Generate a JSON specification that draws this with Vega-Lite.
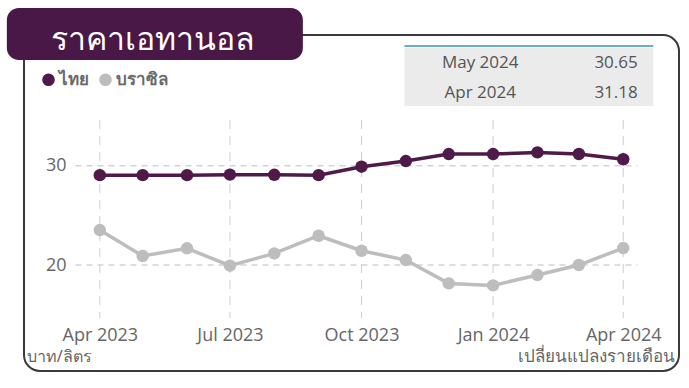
{
  "$schema": "https://vega.github.io/schema/vega-lite/v6.json",
  "width": 655,
  "height": 336,
  "autosize": "none",
  "padding": {"left": 24, "top": 35, "right": 10, "bottom": 17},
  "background": "white",
  "config": {
    "view": {"stroke": "#3a3a3a", "strokeWidth": 2, "cornerRadius": 16},
    "font": "Noto Sans",
    "text": {"font": "Noto Sans"}
  },
  "datasets": {
    "prices": [
      {"date": "2023-04-01", "country": "ไทย", "price": 29.05},
      {"date": "2023-05-01", "country": "ไทย", "price": 29.05},
      {"date": "2023-06-01", "country": "ไทย", "price": 29.05},
      {"date": "2023-07-01", "country": "ไทย", "price": 29.1},
      {"date": "2023-08-01", "country": "ไทย", "price": 29.08},
      {"date": "2023-09-01", "country": "ไทย", "price": 29.05},
      {"date": "2023-10-01", "country": "ไทย", "price": 29.9},
      {"date": "2023-11-01", "country": "ไทย", "price": 30.47},
      {"date": "2023-12-01", "country": "ไทย", "price": 31.17},
      {"date": "2024-01-01", "country": "ไทย", "price": 31.17},
      {"date": "2024-02-01", "country": "ไทย", "price": 31.34},
      {"date": "2024-03-01", "country": "ไทย", "price": 31.18},
      {"date": "2024-04-01", "country": "ไทย", "price": 30.65},
      {"date": "2023-04-01", "country": "บราซิล", "price": 23.52},
      {"date": "2023-05-01", "country": "บราซิล", "price": 20.91},
      {"date": "2023-06-01", "country": "บราซิล", "price": 21.68},
      {"date": "2023-07-01", "country": "บราซิล", "price": 19.93},
      {"date": "2023-08-01", "country": "บราซิล", "price": 21.17},
      {"date": "2023-09-01", "country": "บราซิล", "price": 22.95},
      {"date": "2023-10-01", "country": "บราซิล", "price": 21.44},
      {"date": "2023-11-01", "country": "บราซิล", "price": 20.5},
      {"date": "2023-12-01", "country": "บราซิล", "price": 18.15},
      {"date": "2024-01-01", "country": "บราซิล", "price": 17.95},
      {"date": "2024-02-01", "country": "บราซิล", "price": 18.99},
      {"date": "2024-03-01", "country": "บราซิล", "price": 20.0},
      {"date": "2024-04-01", "country": "บราซิล", "price": 21.71}
    ],
    "table": [
      {"month": "May 2024", "value": "30.65"},
      {"month": "Apr 2024", "value": "31.18"}
    ],
    "hgrid": [{"v": 20}, {"v": 30}],
    "vgrid": [
      {"date": "2023-04-01"}, {"date": "2023-07-01"}, {"date": "2023-10-01"},
      {"date": "2024-01-01"}, {"date": "2024-04-01"}
    ],
    "titles": [{"title": "ราคาเอทานอล", "unit": "บาท/ลิตร", "note": "เปลี่ยนแปลงรายเดือน"}]
  },
  "layer": [
    {
      "data": {"name": "hgrid"},
      "mark": {"type": "rule", "color": "#d4d4d4", "strokeWidth": 1.5, "strokeDash": [6, 5]},
      "encoding": {
        "y": {"field": "v", "type": "quantitative"},
        "x": {"datum": {"year": 2023, "month": 3, "date": 15, "utc": true}, "type": "temporal"},
        "x2": {"datum": {"year": 2024, "month": 4, "date": 11, "utc": true}}
      }
    },
    {
      "data": {"name": "vgrid"},
      "mark": {"type": "rule", "color": "#d4d4d4", "strokeWidth": 1.2, "strokeDash": [9, 7]},
      "encoding": {
        "x": {"field": "date", "type": "temporal"},
        "y": {"datum": 34.6, "type": "quantitative"},
        "y2": {"datum": 14.66}
      }
    },
    {
      "data": {"name": "prices"},
      "mark": {"type": "line", "strokeWidth": 3.5, "point": {"filled": true, "size": 155, "opacity": 1}},
      "encoding": {
        "x": {
          "field": "date", "type": "temporal",
          "scale": {"type": "utc", "domain": [{"year": 2023, "month": 2, "date": 7, "utc": true}, {"year": 2024, "month": 5, "date": 10, "utc": true}]},
          "axis": {
            "values": [
              {"year": 2023, "month": 4, "date": 1, "utc": true},
              {"year": 2023, "month": 7, "date": 1, "utc": true},
              {"year": 2023, "month": 10, "date": 1, "utc": true},
              {"year": 2024, "month": 1, "date": 1, "utc": true},
              {"year": 2024, "month": 4, "date": 1, "utc": true}
            ],
            "format": "%b %Y", "title": null, "grid": false, "domain": false, "ticks": false, "tickSize": 0,
            "labelPadding": 0, "offset": -45, "labelFontSize": 18, "labelColor": "#666666",
            "labelFont": "Open Sans", "labelFlush": false, "labelOverlap": false, "labelBaseline": "top"
          }
        },
        "y": {
          "field": "price", "type": "quantitative",
          "scale": {"domain": [9.33, 43.16], "nice": false, "zero": false},
          "axis": {
            "values": [20, 30], "title": null, "grid": false, "domain": false, "ticks": false, "tickSize": 0,
            "labelPadding": 2, "offset": -44, "labelFontSize": 18, "labelColor": "#666666", "labelFont": "Open Sans"
          }
        },
        "color": {
          "field": "country", "type": "nominal",
          "scale": {"domain": ["ไทย", "บราซิล"], "range": ["#4f1a4a", "#bdbdbd"]},
          "legend": {
            "orient": "none", "legendX": 16, "legendY": 36, "direction": "horizontal", "title": null,
            "symbolType": "circle", "symbolSize": 160, "symbolStrokeWidth": 0, "labelFontSize": 17,
            "labelColor": "#6a6a6a", "columnPadding": 8, "labelOffset": 2, "labelFontWeight": "bold",
            "encode": {"symbols": {"update": {"fill": {"scale": "color", "field": "value"}, "strokeWidth": {"value": 0}}}}
          }
        }
      }
    },
    {
      "data": {"name": "titles"},
      "layer": [
        {
          "mark": {"type": "rect", "color": "#4a1846", "cornerRadius": 12},
          "encoding": {
            "x": {"datum": {"year": 2023, "month": 1, "date": 26, "utc": true}, "type": "temporal"},
            "x2": {"datum": {"year": 2023, "month": 8, "date": 21, "utc": true}},
            "y": {"datum": 45.88, "type": "quantitative"},
            "y2": {"datum": 40.64}
          }
        },
        {
          "mark": {"type": "text", "color": "white", "fontSize": 32, "align": "center", "baseline": "middle"},
          "encoding": {
            "x": {"datum": {"year": 2023, "month": 5, "date": 8, "utc": true}, "type": "temporal"},
            "y": {"datum": 42.65, "type": "quantitative"},
            "text": {"field": "title"}
          }
        },
        {
          "mark": {"type": "text", "color": "#666666", "fontSize": 16, "align": "left", "baseline": "middle"},
          "encoding": {
            "x": {"datum": {"year": 2023, "month": 2, "date": 9, "utc": true}, "type": "temporal"},
            "y": {"datum": 10.73, "type": "quantitative"},
            "text": {"field": "unit"}
          }
        },
        {
          "mark": {"type": "text", "color": "#666666", "fontSize": 17, "align": "right", "baseline": "middle"},
          "encoding": {
            "x": {"datum": {"year": 2024, "month": 5, "date": 7, "utc": true}, "type": "temporal"},
            "y": {"datum": 10.73, "type": "quantitative"},
            "text": {"field": "note"}
          }
        }
      ]
    },
    {
      "data": {"name": "table"},
      "layer": [
        {
          "transform": [{"filter": {"field": "month", "equal": "May 2024"}}],
          "mark": {"type": "rect", "color": "#ebebeb"},
          "encoding": {
            "x": {"datum": {"year": 2023, "month": 10, "date": 31, "utc": true}, "type": "temporal"},
            "x2": {"datum": {"year": 2024, "month": 4, "date": 22, "utc": true}},
            "y": {"datum": 41.85, "type": "quantitative"},
            "y2": {"datum": 36.01}
          }
        },
        {
          "transform": [{"filter": {"field": "month", "equal": "May 2024"}}],
          "mark": {"type": "rule", "color": "#6aaec4", "strokeWidth": 2},
          "encoding": {
            "x": {"datum": {"year": 2023, "month": 10, "date": 31, "utc": true}, "type": "temporal"},
            "x2": {"datum": {"year": 2024, "month": 4, "date": 22, "utc": true}},
            "y": {"datum": 42.05, "type": "quantitative"}
          }
        },
        {
          "transform": [{"filter": {"field": "month", "equal": "May 2024"}}],
          "mark": {"type": "text", "color": "#555555", "fontSize": 17, "font": "Open Sans", "align": "center", "baseline": "middle"},
          "encoding": {
            "x": {"datum": {"year": 2023, "month": 12, "date": 23, "utc": true}, "type": "temporal"},
            "y": {"datum": 40.34, "type": "quantitative"},
            "text": {"field": "month"}
          }
        },
        {
          "transform": [{"filter": {"field": "month", "equal": "May 2024"}}],
          "mark": {"type": "text", "color": "#555555", "fontSize": 17, "font": "Open Sans", "align": "center", "baseline": "middle"},
          "encoding": {
            "x": {"datum": {"year": 2024, "month": 3, "date": 27, "utc": true}, "type": "temporal"},
            "y": {"datum": 40.34, "type": "quantitative"},
            "text": {"field": "value"}
          }
        },
        {
          "transform": [{"filter": {"field": "month", "equal": "Apr 2024"}}],
          "mark": {"type": "text", "color": "#555555", "fontSize": 17, "font": "Open Sans", "align": "center", "baseline": "middle"},
          "encoding": {
            "x": {"datum": {"year": 2023, "month": 12, "date": 23, "utc": true}, "type": "temporal"},
            "y": {"datum": 37.32, "type": "quantitative"},
            "text": {"field": "month"}
          }
        },
        {
          "transform": [{"filter": {"field": "month", "equal": "Apr 2024"}}],
          "mark": {"type": "text", "color": "#555555", "fontSize": 17, "font": "Open Sans", "align": "center", "baseline": "middle"},
          "encoding": {
            "x": {"datum": {"year": 2024, "month": 3, "date": 27, "utc": true}, "type": "temporal"},
            "y": {"datum": 37.32, "type": "quantitative"},
            "text": {"field": "value"}
          }
        }
      ]
    }
  ]
}
